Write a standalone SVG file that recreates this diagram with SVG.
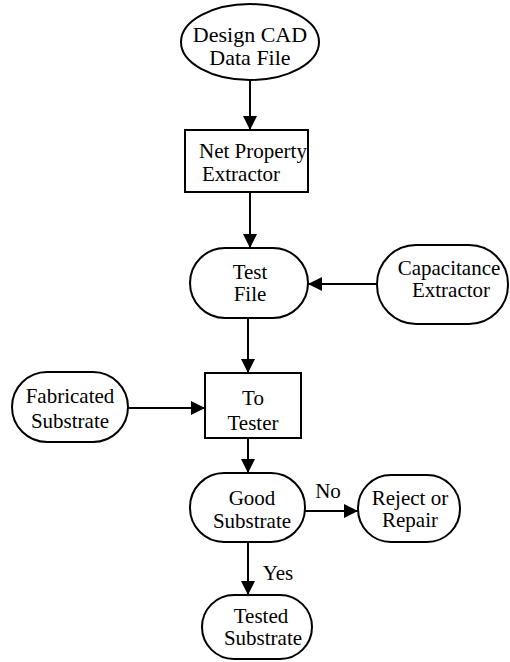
<svg xmlns="http://www.w3.org/2000/svg" width="510" height="662" viewBox="0 0 510 662">
  <style>
    .shape { fill: #fff; stroke: #000; stroke-width: 2; }
    .lbl { font-family: 'Liberation Serif', 'DejaVu Serif', serif; font-size: 21px; fill: #000; text-anchor: middle; }
    .edge { fill: none; stroke: #000; stroke-width: 2; }
  </style>
  <defs>
    <marker id="arrow" viewBox="0 0 14 14" refX="14" refY="7" markerWidth="14" markerHeight="14" markerUnits="userSpaceOnUse" orient="auto">
      <path d="M0,0 L14,7 L0,14 Z" fill="#000"/>
    </marker>
  </defs>
  <rect width="510" height="662" fill="#fff"/>

  <g id="connectors">
    <line class="edge" x1="250" y1="80" x2="250" y2="130" marker-end="url(#arrow)"/>
    <line class="edge" x1="250" y1="192" x2="250" y2="248" marker-end="url(#arrow)"/>
    <line class="edge" x1="377" y1="284" x2="308" y2="284" marker-end="url(#arrow)"/>
    <line class="edge" x1="248" y1="318" x2="248" y2="373" marker-end="url(#arrow)"/>
    <line class="edge" x1="128" y1="408" x2="205" y2="408" marker-end="url(#arrow)"/>
    <line class="edge" x1="248" y1="438" x2="248" y2="473" marker-end="url(#arrow)"/>
    <line class="edge" x1="305" y1="511" x2="358" y2="511" marker-end="url(#arrow)"/>
    <line class="edge" x1="248" y1="542" x2="248" y2="595" marker-end="url(#arrow)"/>
    <text class="lbl" x="328" y="498">No</text>
    <text class="lbl" x="278" y="580">Yes</text>
  </g>

  <g id="design-cad">
    <ellipse class="shape" cx="250" cy="42" rx="69" ry="38"/>
    <text class="lbl" x="250" y="42" style="font-size:22px">Design CAD</text>
    <text class="lbl" x="250" y="65" style="font-size:22px">Data File</text>
  </g>

  <g id="net-property">
    <rect class="shape" x="185" y="130" width="123" height="62"/>
    <text class="lbl" x="253" y="158">Net Property</text>
    <text class="lbl" x="241" y="181">Extractor</text>
  </g>

  <g id="test-file">
    <rect class="shape" x="190" y="248" width="118" height="70" rx="35" ry="35"/>
    <text class="lbl" x="250" y="279">Test</text>
    <text class="lbl" x="250" y="301">File</text>
  </g>

  <g id="capacitance">
    <rect class="shape" x="377" y="245" width="131" height="79" rx="39" ry="39"/>
    <text class="lbl" x="449" y="275">Capacitance</text>
    <text class="lbl" x="451" y="297">Extractor</text>
  </g>

  <g id="fabricated">
    <rect class="shape" x="12" y="372" width="116" height="70" rx="35" ry="35"/>
    <text class="lbl" x="70" y="403">Fabricated</text>
    <text class="lbl" x="70" y="428">Substrate</text>
  </g>

  <g id="to-tester">
    <rect class="shape" x="205" y="373" width="96" height="65"/>
    <text class="lbl" x="253" y="405">To</text>
    <text class="lbl" x="253" y="430">Tester</text>
  </g>

  <g id="good-substrate">
    <rect class="shape" x="190" y="473" width="115" height="69" rx="34" ry="34"/>
    <text class="lbl" x="252" y="505">Good</text>
    <text class="lbl" x="252" y="528">Substrate</text>
  </g>

  <g id="reject">
    <rect class="shape" x="358" y="475" width="102" height="67" rx="33" ry="33"/>
    <text class="lbl" x="410" y="505">Reject or</text>
    <text class="lbl" x="410" y="527">Repair</text>
  </g>

  <g id="tested-substrate">
    <rect class="shape" x="202" y="595" width="110" height="64" rx="32" ry="32"/>
    <text class="lbl" x="261" y="623">Tested</text>
    <text class="lbl" x="263" y="645">Substrate</text>
  </g>
</svg>
